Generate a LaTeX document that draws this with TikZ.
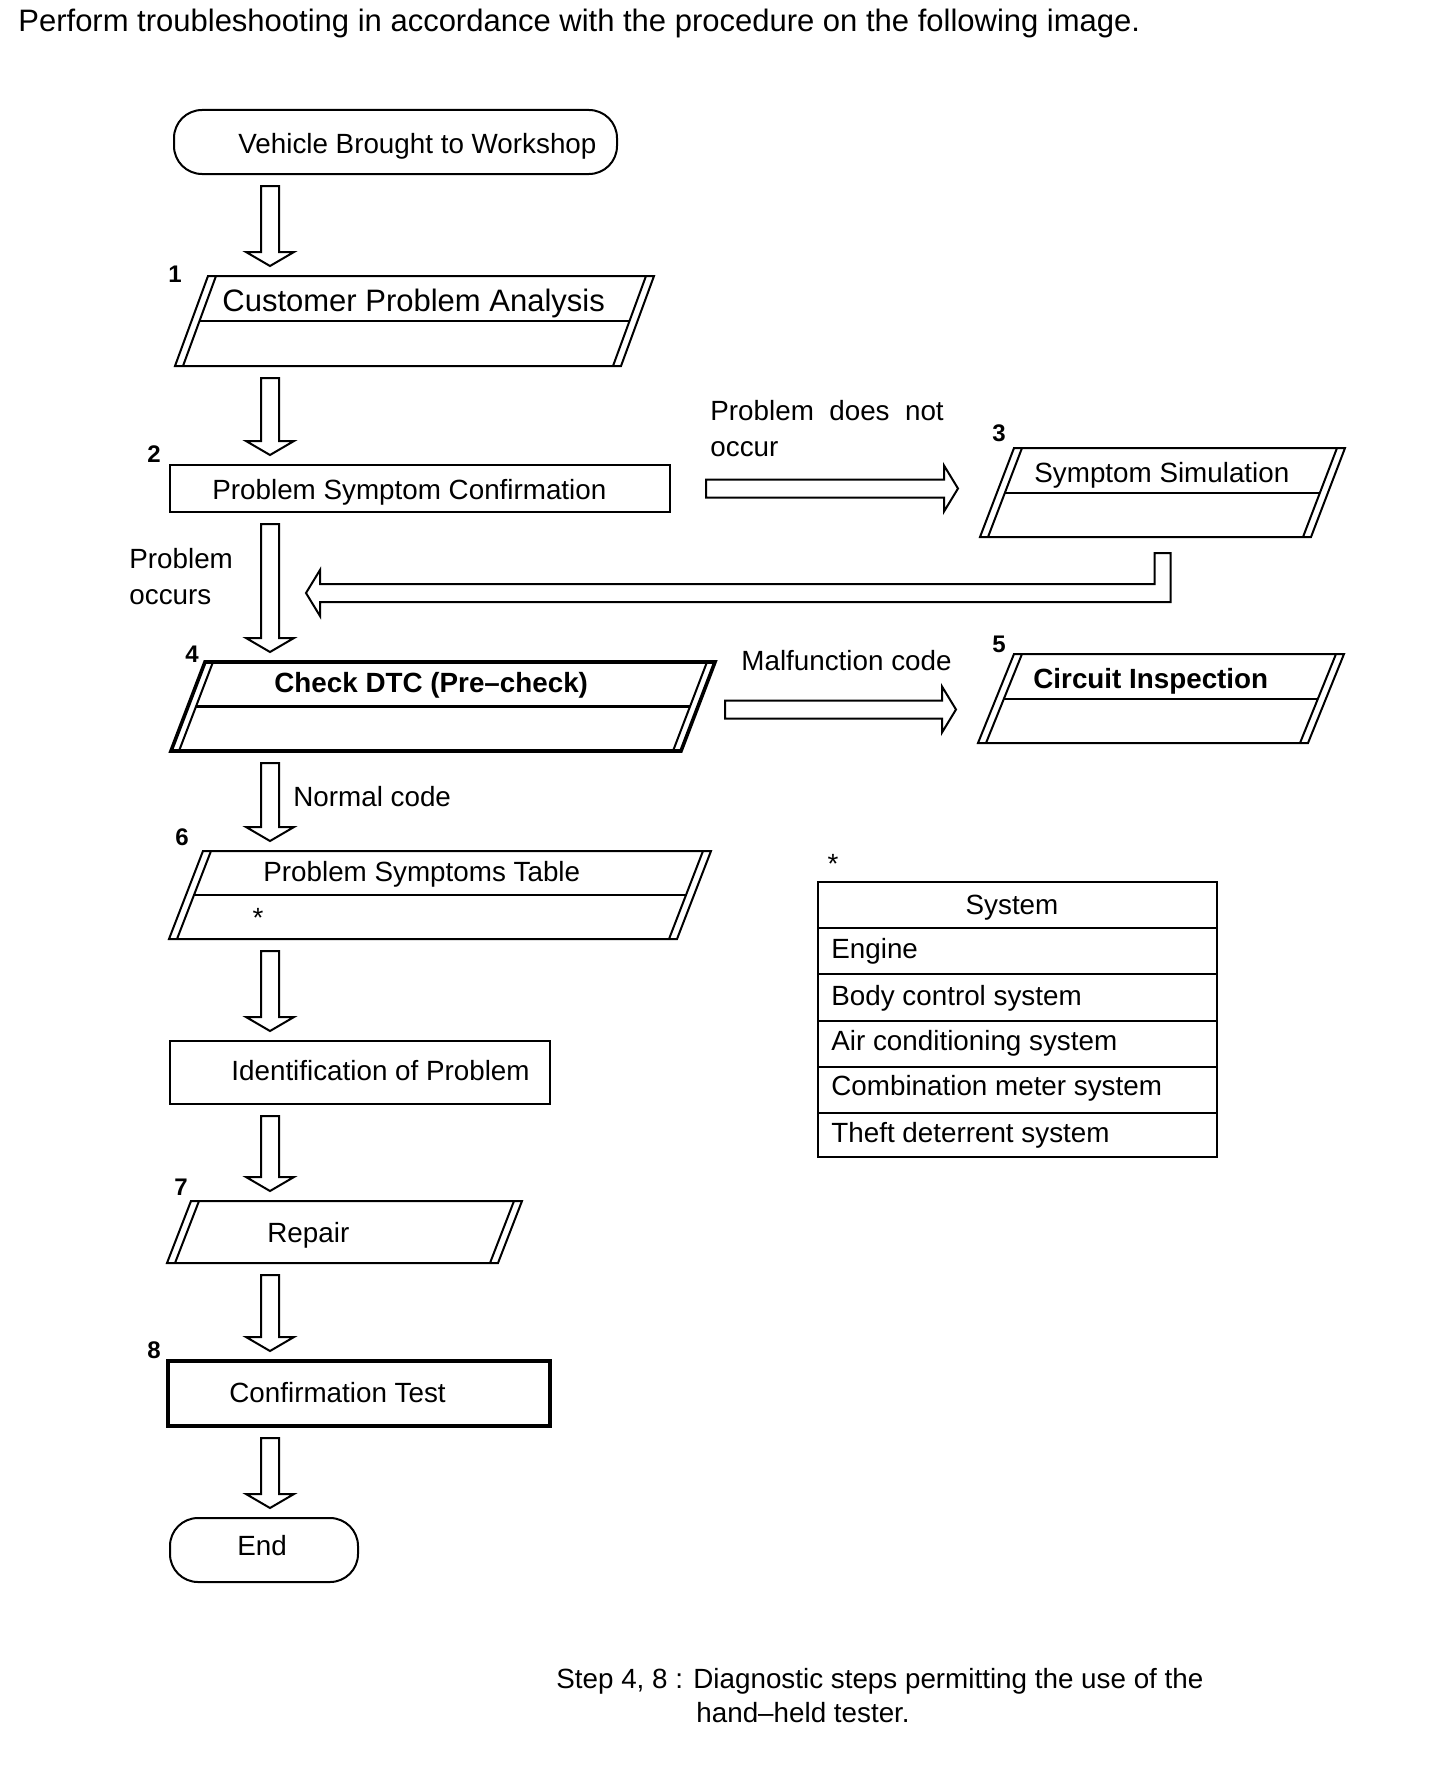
\documentclass[tikz,border=0pt]{standalone}
\usepackage{fontspec}
\setmainfont{Liberation Sans}
\usepackage{tikz}
\usetikzlibrary{calc}

\newcommand{\boxfont}{\fontsize{13.9}{16}\selectfont}
\newcommand{\bigboxfont}{\fontsize{15.5}{18}\selectfont}
\newcommand{\titlefont}{\fontsize{15.5}{18}\selectfont}
\newcommand{\numfont}{\fontsize{12}{14}\selectfont\bfseries}

% parallelogram with doubled slanted sides, drawn on a plain node
\newcommand{\slantbox}[3][line]{%
  \coordinate (#2-bl) at ($(#2.south west)+(8,0)$);
  \coordinate (#2-tl) at ($(#2.north west)+(#3+8,0)$);
  \coordinate (#2-br) at ($(#2.south east)+(-#3-8,0)$);
  \coordinate (#2-tr) at ($(#2.north east)+(-8,0)$);
  \draw[#1] (#2.south west) -- ($(#2.south east)+(-#3,0)$) -- (#2.north east) -- ($(#2.north west)+(#3,0)$) -- cycle;
  \draw[line] (#2-bl) -- (#2-tl) (#2-br) -- (#2-tr);
}
% hollow arrow down the main column
\newcommand{\blockdown}[2]{%
  \draw[blockarrow] ($(col |- #1.south)+(-9,12)$) -- ($(col |- #2.north)+(-9,-24)$)
    -- ($(col |- #2.north)+(-24,-24)$) -- ($(col |- #2.north)+(0,-10)$)
    -- ($(col |- #2.north)+(24,-24)$) -- ($(col |- #2.north)+(9,-24)$)
    -- ($(col |- #1.south)+(9,12)$) -- cycle;
}
% hollow arrow to the right
\newcommand{\blockright}[4]{%
  \draw[blockarrow] ($(#1.east)+(#3,#4-9)$) -- ($(#1.east -| #2.west)+(-36,#4-9)$)
    -- ($(#1.east -| #2.west)+(-36,#4-23)$) -- ($(#1.east -| #2.west)+(-22,#4)$)
    -- ($(#1.east -| #2.west)+(-36,#4+23)$) -- ($(#1.east -| #2.west)+(-36,#4+9)$)
    -- ($(#1.east)+(#3,#4+9)$) -- cycle;
}

\begin{document}
\begin{tikzpicture}[x=0.5pt,y=-0.5pt,
  box/.style={draw=none,inner sep=0pt,outer sep=0pt},
  line/.style={line width=1pt},
  heavy/.style={line width=1.8pt},
  blockarrow/.style={draw,line width=1pt,fill=white,line join=miter},
  txt/.style={inner sep=0pt,anchor=base west,font=\boxfont},
  num/.style={inner sep=0pt,anchor=base,font=\numfont}]
\useasboundingbox (0,0) rectangle (1440,1766);
\coordinate (col) at (270,0);

\node[txt,font=\titlefont] (title) at (18,32) {Perform troubleshooting in accordance with the procedure on the following image.};

% start
\node[box,draw,line,rounded corners=14pt,minimum width=221.5pt,minimum height=32pt] (start) at (395.5,142) {};
\node[txt] (start-t) at (238,154) {Vehicle Brought to Workshop};

% 1
\node[box,minimum width=239.5pt,minimum height=45pt] (p1) at (414.5,321) {};
\slantbox{p1}{33}
\node[txt,font=\bigboxfont] (p1-t) at (222,311) {Customer Problem Analysis};
\node[num] (n1) at (175,282) {1};

% 2
\node[box,draw,line,minimum width=250pt,minimum height=23.5pt] (p2) at (420,488.5) {};
\node[txt] (p2-t) at (212,499) {Problem Symptom Confirmation};
\node[num] (n2) at (154,462) {2};

% 3
\node[box,minimum width=182.5pt,minimum height=44.5pt] (p3) at (1162.5,492.5) {};
\slantbox{p3}{34}
\node[txt] (p3-t) at (1034,482) {Symptom Simulation};
\node[num] (n3) at (999,441) {3};

% 4
\node[box,minimum width=272pt,minimum height=44.5pt] (p4) at (443,706.5) {};
\slantbox[heavy]{p4}{34}
\node[txt,font=\boxfont\bfseries] (p4-t) at (274,692) {Check DTC (Pre\textendash check)};
\node[num] (n4) at (192,662) {4};

% 5
\node[box,minimum width=183pt,minimum height=44.5pt] (p5) at (1161,698.5) {};
\slantbox{p5}{36}
\node[txt,font=\boxfont\bfseries] (p5-t) at (1033,688) {Circuit Inspection};
\node[num] (n5) at (999,652) {5};

% 6
\node[box,minimum width=271pt,minimum height=44pt] (p6) at (440,895) {};
\slantbox{p6}{34}
\node[txt] (p6-t) at (263,881) {Problem Symptoms Table};
\node[txt,anchor=base] (p6-ast) at (258,927) {*};
\node[num] (n6) at (182,845) {6};

% dividers
\foreach \b in {p1,p3,p5,p6}
  \draw[line] ($(\b-tl)!.5!(\b-bl)$) -- ($(\b-tr)!.5!(\b-br)$);
\draw[line width=1.3pt] ($(p4-tl)!.5!(p4-bl)$) -- ($(p4-tr)!.5!(p4-br)$);

% identification
\node[box,draw,line,minimum width=190pt,minimum height=31.5pt] (idn) at (360,1072.5) {};
\node[txt] (idn-t) at (231,1080) {Identification of Problem};

% 7
\node[box,minimum width=177.5pt,minimum height=31pt] (p7) at (344.5,1232) {};
\slantbox{p7}{24}
\node[txt] (p7-t) at (267,1242) {Repair};
\node[num] (n7) at (181,1195) {7};

% 8
\node[box,draw,heavy,minimum width=191pt,minimum height=32.5pt] (p8) at (359,1393.5) {};
\node[txt] (p8-t) at (229,1402) {Confirmation Test};
\node[num] (n8) at (154,1358) {8};

% end
\node[box,draw,line,rounded corners=14pt,minimum width=94pt,minimum height=32pt] (endt) at (264,1550) {};
\node[txt,anchor=base] (endt-t) at (262,1555) {End};

% arrows
\blockdown{start}{p1}
\blockdown{p1}{p2}
\blockdown{p2}{p4}
\blockdown{p4}{p6}
\blockdown{p6}{idn}
\blockdown{idn}{p7}
\blockdown{p7}{p8}
\blockdown{p8}{endt}
\blockright{p2}{p3}{36}{0}
\blockright{p4}{p5}{10}{3}
\draw[blockarrow] ($(p3.south)+(-8,16)$) -- ($(p3.south)+(-8,47)$) -- ($(col |- p3.south)+(50,47)$)
  -- ($(col |- p3.south)+(50,33)$) -- ($(col |- p3.south)+(36,56)$) -- ($(col |- p3.south)+(50,79)$)
  -- ($(col |- p3.south)+(50,65)$) -- ($(p3.south)+(8,65)$) -- ($(p3.south)+(8,16)$) -- cycle;

% arrow labels
\node[txt] (lb-no1) at (710,420) {Problem\ \ does\ \ not};
\node[txt] (lb-no2) at (710,456) {occur};
\node[txt] (lb-yes1) at (129,568) {Problem};
\node[txt] (lb-yes2) at (129,604) {occurs};
\node[txt] (lb-mal) at (741,670) {Malfunction code};
\node[txt] (lb-nor) at (293,806) {Normal code};

% system table
\node[txt,anchor=base] (tab-ast) at (833,873) {*};
\draw[line width=0.7pt] (818,882) rectangle (1217,1157);
\foreach \y in {928,974,1021,1067,1113}
  \draw[line width=0.7pt] (818,\y) -- (1217,\y);
\node[txt,anchor=base] (sys) at (1012,914) {System};
\foreach \name/\yb [count=\i] in {Engine/958,Body control system/1005,Air conditioning system/1050,Combination meter system/1095,Theft deterrent system/1142}
  \node[txt] (row\i) at (831,\yb) {\name};

% note
\node[txt] (note1) at (556,1688) {Step 4, 8 : Diagnostic steps permitting the use of the};
\node[txt] (note2) at (696,1722) {hand\textendash held tester.};
\end{tikzpicture}
\end{document}
